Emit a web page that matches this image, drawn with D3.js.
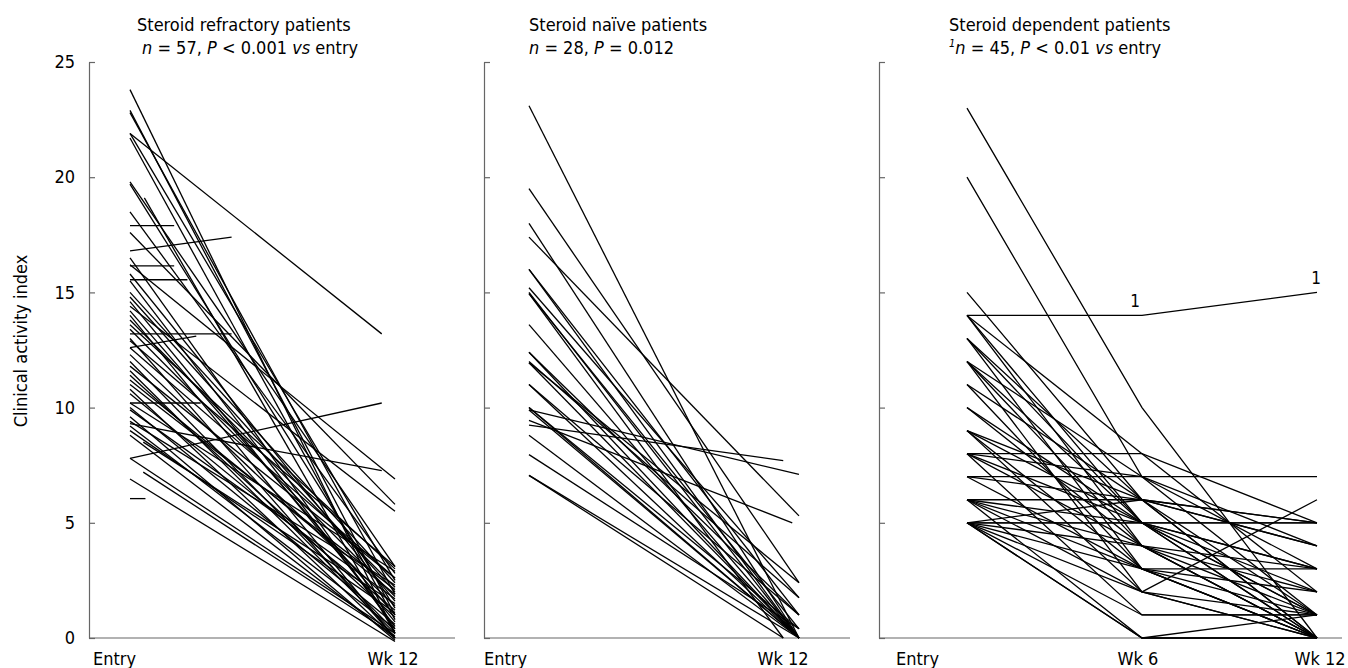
<!DOCTYPE html>
<html>
<head>
<meta charset="utf-8">
<script src="https://cdn.jsdelivr.net/npm/d3@7"></script>
<style>
  html, body { margin: 0; padding: 0; background: #fff; }
  svg text { font-family: "DejaVu Sans Condensed", "DejaVu Sans", sans-serif; font-stretch: condensed; fill: #000; }
</style>
</head>
<body>
<svg id="chart" width="1348" height="668"></svg>
<script>
// ---------------- DATA ----------------
const yTicks = [0, 5, 10, 15, 20, 25];
const yLabel = "Clinical activity index";

// Panel 1: steroid refractory, each line = [startWeek, startValue, endWeek, endValue]
const p1Lines = [
  [0, 23.8, 12, 0.2], [0, 22.9, 12, 1.0], [0, 22.8, 12, 1.9], [0, 21.9, 11.4, 13.2],
  [0, 21.9, 12, 2.5], [0, 21.7, 12, 0.8], [0, 19.8, 12, 3.1], [0, 19.7, 12, 1.3],
  [0.65, 19.1, 12, 0.2], [0, 18.5, 12, 2.8], [0, 17.9, 2, 17.9], [0, 17.6, 12, 5.8],
  [0, 16.8, 4.6, 17.4], [0, 16.5, 12, 0.4], [0, 16.2, 12, 6.9], [0, 16.15, 2, 16.15],
  [0, 15.8, 12, 1.6], [0, 15.55, 2.6, 15.55], [0, 15.5, 12, 0.5], [0, 15.0, 12, 2.4],
  [0, 14.8, 12, 2.0], [0, 14.6, 12, 0.7], [0, 14.4, 12, 5.5], [0, 14.2, 12, 1.0],
  [0, 14.0, 12, 0.0], [0, 13.8, 12, 2.2], [0, 13.6, 12, 3.0], [0, 13.4, 12, 1.8],
  [0, 13.2, 4.6, 13.2], [0, 13.0, 12, 0.0], [0, 12.9, 12, 3.1], [0, 12.6, 3, 13.1],
  [0, 12.6, 12, 2.6], [0, 12.3, 12, 1.4], [0, 12.0, 12, 0.3], [0, 11.8, 12, 2.6],
  [0, 11.6, 12, 0.2], [0, 11.4, 12, 0.9], [0, 11.2, 12, 1.9], [0, 11.0, 12, 2.1],
  [0, 10.8, 12, 0.0], [0, 10.6, 12, 1.2], [0, 10.2, 3.2, 10.2], [0, 10.2, 12, 2.9],
  [0, 10.0, 12, 0.6], [0, 9.9, 12, 1.7], [0, 9.6, 12, -0.1], [0, 9.4, 12, 2.3],
  [0, 9.3, 11.4, 7.26], [0, 9.2, 12, 0.4], [0, 9.0, 12, 1.1], [0, 8.8, 12, 0.0],
  [0.6, 8.5, 12, 1.5], [0, 7.8, 11.4, 10.2], [0, 7.8, 12, 0.2], [0.6, 7.2, 12, 0.1],
  [0, 6.9, 12, -0.15], [0, 6.05, 0.7, 6.05]
];

// Panel 2: steroid naive, each line = [startWeek, startValue, endWeek, endValue]
const p2Lines = [
  [0, 23.1, 12, 0.0], [0, 19.5, 12, 2.4], [0, 18.0, 12, 0.0], [0, 17.4, 12, 5.3],
  [0, 16.0, 12, 1.0], [0, 16.0, 12, 0.0], [0, 15.2, 12, 1.75], [0, 15.0, 12, 0.0],
  [0, 14.95, 12, 0.4], [0, 14.95, 11.3, 0.0], [0, 13.6, 12, 0.0], [0, 12.4, 12, 1.0],
  [0, 12.4, 12, 0.0], [0, 11.95, 12, 0.0], [0, 11.95, 12, 2.4], [0, 11.0, 12, 0.0],
  [0, 11.0, 12, 1.0], [0, 10.0, 12, 0.0], [0, 10.0, 12, 0.4], [0, 9.9, 12, 7.1],
  [0, 9.9, 12, 0.0], [0, 9.45, 11.7, 5.0], [0, 9.24, 11.3, 7.7], [0, 8.8, 12, 0.0],
  [0, 7.96, 12, 0.4], [0, 7.06, 11.3, 0.0], [0, 7.06, 12, 0.0], [0, 12.0, 12, 1.75]
];

// Panel 3: steroid dependent, values at entry, week 6, week 12
const p3Weeks = [0, 6, 12];
const p3Entry = [23, 20, 15, 14, 14, 14, 14, 13, 13, 13, 12, 12, 12, 12, 11, 11, 10, 10, 9, 9, 9, 9,
                 8, 8, 8, 8, 8, 7, 7, 7, 6, 6, 6, 6, 6, 5, 5, 5, 5, 5, 5, 5, 5, 5, 6];
const p3Wk6   = [10, 7, 6, 14, 8, 5, 4, 6, 3, 5, 7, 5, 4, 2, 6, 3, 5, 4, 6, 2, 5, 3,
                 8, 7, 5, 1, 4, 7, 6, 3, 6, 5, 4, 2, 0, 5, 5, 4, 3, 2, 1, 0, 0, 6, 3];
const p3Wk12  = [0, 1, 0, 15, 2, 0, 1, 4, 0, 1, 3, 5, 0, 6, 5, 1, 3, 0, 5, 0, 2, 3,
                 5, 4, 1, 1, 2, 7, 0, 0, 4, 0, 3, 1, 0, 5, 3, 0, 2, 0, 1, 1, 0, 1, 0];
const p3Flagged = 3; // index of the patient annotated with superscript 1

const titles1 = ["Steroid refractory patients", "Steroid naïve patients", "Steroid dependent patients"];
const xTickLabels = [["Entry", "Wk 12"], ["Entry", "Wk 12"], ["Entry", "Wk 6", "Wk 12"]];
const xTickWeeks = [[0, 12], [0, 12], [0, 6, 12]];

// ---------------- DRAW ----------------
const svg = d3.select("#chart");
const FONT = 18;
const y = d3.scaleLinear().domain([0, 25]).range([638, 62]);

const panels = [
  { axisX: 89,  axisEnd: 455,  x0: 130, x1: 395,  labels: true,  titleX: 137, subX: 142, entryDx: -37, tickDx: [0, -2] },
  { axisX: 484, axisEnd: 850,  x0: 529, x1: 799,  labels: false, titleX: 529, subX: 529, entryDx: -45, tickDx: [0, -16] },
  { axisX: 879, axisEnd: 1342, x0: 967, x1: 1317, labels: false, titleX: 949, subX: 949, entryDx: -71, tickDx: [0, -4, 3] }
];
panels.forEach(p => { p.x = d3.scaleLinear().domain([0, 12]).range([p.x0, p.x1]); });

const axisColor = "#666";

panels.forEach((p, i) => {
  const g = svg.append("g");
  // y axis
  const yAxis = d3.axisLeft(y).tickValues(yTicks).tickSize(-6).tickSizeOuter(0).tickPadding(14)
    .tickFormat(p.labels ? d3.format("d") : () => "");
  const ga = g.append("g").attr("transform", `translate(${p.axisX},0)`).call(yAxis);
  ga.selectAll("path, line").attr("stroke", axisColor).attr("stroke-width", 1.2);
  ga.selectAll("text").style("font-size", FONT + "px").attr("fill", "#000")
    .style("font-family", '"DejaVu Sans Condensed", "DejaVu Sans", sans-serif');
  // x axis line
  g.append("line").attr("x1", p.axisX).attr("x2", p.axisEnd).attr("y1", y(0)).attr("y2", y(0))
    .attr("stroke", axisColor).attr("stroke-width", 1.2);
  // x tick labels
  xTickLabels[i].forEach((lab, k) => {
    const wk = xTickWeeks[i][k];
    const isEntry = k === 0;
    g.append("text")
      .attr("x", p.x(wk) + (isEntry ? p.entryDx : p.tickDx[k]))
      .attr("y", 665)
      .attr("text-anchor", isEntry ? "start" : "middle")
      .style("font-size", FONT + "px")
      .text(lab);
  });
  // title line 1
  g.append("text").attr("x", p.titleX).attr("y", 31).style("font-size", FONT + "px").text(titles1[i]);
});

// subtitles with italics
function sub(x, parts) {
  const t = svg.append("text").attr("x", x).attr("y", 54).style("font-size", FONT + "px");
  parts.forEach(([s, it]) => {
    const ts = t.append("tspan").text(s);
    if (it) ts.style("font-style", "italic");
  });
  return t;
}
sub(panels[0].subX, [["n", 1], [" = 57, ", 0], ["P", 1], [" < 0.001 ", 0], ["vs", 1], [" entry", 0]]);
sub(panels[1].subX, [["n", 1], [" = 28, ", 0], ["P", 1], [" = 0.012", 0]]);
{
  const t = svg.append("text").attr("x", panels[2].subX).attr("y", 54).style("font-size", FONT + "px");
  t.append("tspan").text("1").style("font-style", "italic").style("font-size", "11px").attr("dy", -7);
  t.append("tspan").text("n").style("font-style", "italic").attr("dy", 7);
  t.append("tspan").text(" = 45, ");
  t.append("tspan").text("P").style("font-style", "italic");
  t.append("tspan").text(" < 0.01 ");
  t.append("tspan").text("vs").style("font-style", "italic");
  t.append("tspan").text(" entry");
}

// y axis title
svg.append("text")
  .attr("transform", `translate(27,341) rotate(-90)`)
  .attr("text-anchor", "middle")
  .style("font-size", FONT + "px")
  .text(yLabel);

// data lines
const lineGen = (xs) => d3.line().x(d => xs(d[0])).y(d => y(d[1]));
const lineStyle = sel => sel.attr("fill", "none").attr("stroke", "#000").attr("stroke-width", 1.3);

[[p1Lines, panels[0]], [p2Lines, panels[1]]].forEach(([lines, p]) => {
  svg.append("g").selectAll("path").data(lines).join("path")
    .attr("d", d => lineGen(p.x)([[d[0], d[1]], [d[2], d[3]]]))
    .call(lineStyle);
});

const p3Data = p3Entry.map((v, i) => [[p3Weeks[0], v], [p3Weeks[1], p3Wk6[i]], [p3Weeks[2], p3Wk12[i]]]);
svg.append("g").selectAll("path").data(p3Data).join("path")
  .attr("d", d => lineGen(panels[2].x)(d))
  .call(lineStyle);

// "1" annotations on flagged patient
const fl = p3Data[p3Flagged];
[1, 2].forEach(k => {
  svg.append("text")
    .attr("x", panels[2].x(fl[k][0]) - (k === 1 ? 7 : 1))
    .attr("y", y(fl[k][1]) - 8)
    .attr("text-anchor", "middle")
    .style("font-size", "17px")
    .text("1");
});
</script>
</body>
</html>
